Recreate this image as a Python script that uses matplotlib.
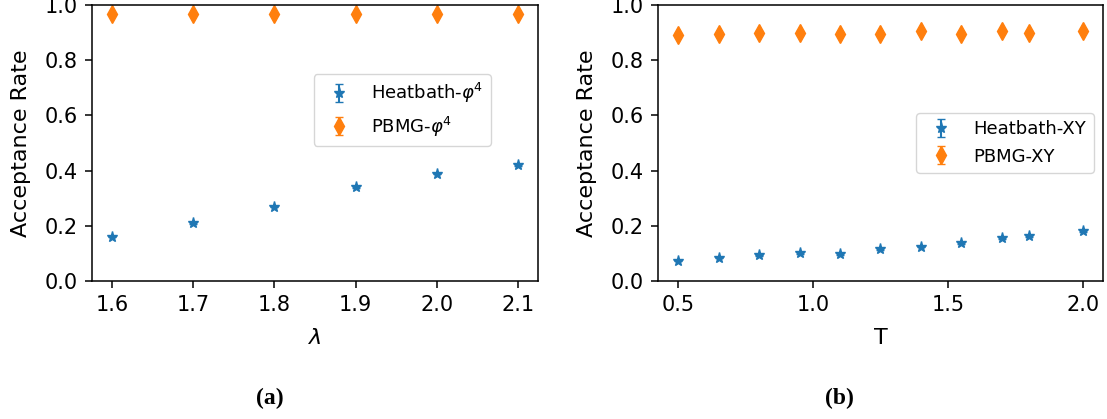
import matplotlib
matplotlib.use('Agg')
import matplotlib.pyplot as plt

# (a) phi^4
lam = [1.6, 1.7, 1.8, 1.9, 2.0, 2.1]
hb_phi4 = [0.160, 0.209, 0.269, 0.340, 0.389, 0.420]
pbmg_phi4 = [0.968, 0.968, 0.968, 0.968, 0.968, 0.968]
hb_phi4_err = [0.003] * 6
pbmg_phi4_err = [0.004] * 6

# (b) XY
temp = [0.5, 0.65, 0.8, 0.95, 1.1, 1.25, 1.4, 1.55, 1.7, 1.8, 2.0]
hb_xy = [0.073, 0.084, 0.092, 0.101, 0.096, 0.114, 0.124, 0.137, 0.154, 0.163, 0.181]
pbmg_xy = [0.892, 0.895, 0.899, 0.899, 0.897, 0.895, 0.905, 0.897, 0.905, 0.899, 0.908]
hb_xy_err = [0.003] * 11
pbmg_xy_err = [0.006] * 11

fs = 16
tfs = 15

W, H = 1107, 419
fig = plt.figure(figsize=(W / 100, H / 100), dpi=100)
ax1 = fig.add_axes([92 / W, 1 - 280.7 / H, 446 / W, 275.4 / H])
ax2 = fig.add_axes([658 / W, 1 - 280.7 / H, 445 / W, 275.4 / H])


def draw(ax, x, hb, hb_err, pb, pb_err, hb_lab, pb_lab, xlab, leg_anchor):
    ax.errorbar(x, hb, yerr=hb_err, fmt='*', color='C0', markersize=8, capsize=3, label=hb_lab)
    ax.errorbar(x, pb, yerr=pb_err, fmt='d', color='C1', markersize=9, capsize=3, label=pb_lab)
    ax.set_ylim(0, 1.0)
    ax.set_ylabel('Acceptance Rate', fontsize=fs, labelpad=10)
    ax.set_xlabel(xlab, fontsize=fs, labelpad=10)
    ax.tick_params(labelsize=tfs, length=5, width=1.1, pad=5)
    for sp in ax.spines.values():
        sp.set_linewidth(1.1)
    ax.legend(fontsize=13, loc='upper right', bbox_to_anchor=leg_anchor, borderaxespad=0)


draw(ax1, lam, hb_phi4, hb_phi4_err, pbmg_phi4, pbmg_phi4_err,
     r'Heatbath-$\varphi^4$', r'PBMG-$\varphi^4$', r'$\lambda$', (0.894, 0.750))
ax1.set_xticks(lam)

draw(ax2, temp, hb_xy, hb_xy_err, pbmg_xy, pbmg_xy_err,
     'Heatbath-XY', 'PBMG-XY', 'T', (0.979, 0.608))
ax2.set_xticks([0.5, 1.0, 1.5, 2.0])

# sub-figure captions
fig.text(270 / W, 1 - 398 / H, '(a)', ha='center', va='center', fontsize=17,
         fontweight='bold', family='Liberation Serif')
fig.text(839 / W, 1 - 398 / H, '(b)', ha='center', va='center', fontsize=17,
         fontweight='bold', family='Liberation Serif')

fig.savefig('out.png', dpi=100)
